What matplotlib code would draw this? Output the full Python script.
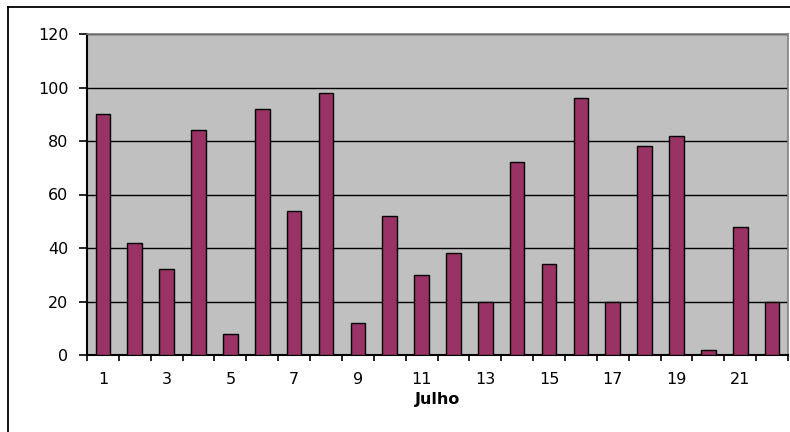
import matplotlib
matplotlib.use("Agg")
import matplotlib.pyplot as plt
from matplotlib.lines import Line2D
import numpy as np

days = list(range(1, 23))
values = [90, 42, 32, 84, 8, 92, 54, 98, 12, 52, 30, 38, 20, 72, 34, 96, 20, 78, 82, 2, 48, 20]
tick_labels = [str(d) if d % 2 == 1 else "" for d in days]
yticks = [0, 20, 40, 60, 80, 100, 120]

plt.rcParams['font.family'] = ['DejaVu Sans']

fig = plt.figure(figsize=(7.9, 4.32), dpi=100)
ax = fig.add_axes([87/790, 77/432, (788-87)/790, (355-34)/432])
ax.set_facecolor('#C0C0C0')

x = np.arange(len(days))
ax.bar(x, values, width=0.46, color='#993366', edgecolor='black', linewidth=1.0, zorder=3)

ax.set_xlim(-0.5, len(days) - 0.5)
ax.set_ylim(0, 120)
ax.set_yticks(yticks)
ax.set_yticklabels([str(v) for v in yticks], fontsize=11.5)
ax.yaxis.grid(True, color='black', linewidth=1.0, zorder=1)
ax.set_axisbelow(True)

# category labels centered, ticks at boundaries
ax.set_xticks(x)
ax.set_xticklabels(tick_labels, fontsize=11.5)
ax.tick_params(axis='x', which='major', length=0, pad=12)
ax.set_xticks(np.arange(-0.5, len(days) + 0.5, 1), minor=True)
ax.tick_params(axis='x', which='minor', length=4.5, width=1.2, direction='out', color='black')
ax.tick_params(axis='y', length=5.8, width=1.2, direction='out', color='black', pad=7.5)

for s in ['top', 'right']:
    ax.spines[s].set_color('#808080')
    ax.spines[s].set_linewidth(1.2)
for s in ['left', 'bottom']:
    ax.spines[s].set_color('black')
    ax.spines[s].set_linewidth(1.5)

ax.set_xlabel('Julho', fontsize=11.5, fontweight='bold', labelpad=4)

# outer chart border
fx = 8/790
fy = 1 - 7/432
fig.add_artist(Line2D([fx, fx], [0, fy], color='black', linewidth=1.3, transform=fig.transFigure))
fig.add_artist(Line2D([fx, 1], [fy, fy], color='black', linewidth=1.3, transform=fig.transFigure))

fig.savefig('out.png', dpi=100)
